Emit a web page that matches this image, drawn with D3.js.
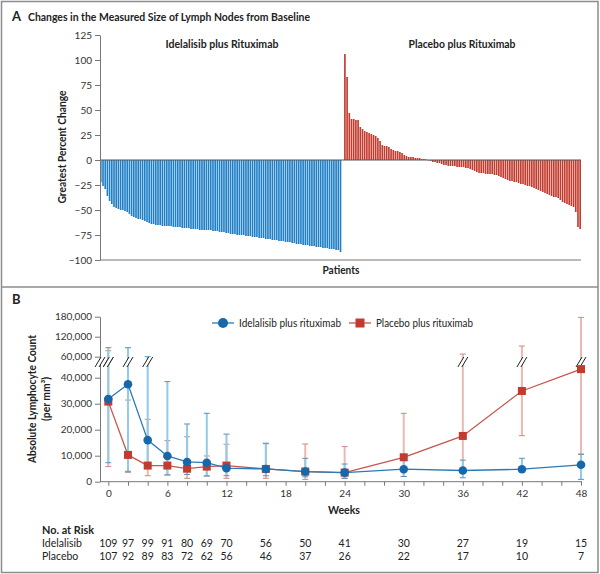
<!DOCTYPE html>
<html><head><meta charset="utf-8">
<script src="https://cdn.jsdelivr.net/npm/d3@7"></script>
<style>body{margin:0;background:#fff}svg{display:block;font-family:Lato,"Open Sans",sans-serif}</style>
</head><body><svg id="c" width="600" height="574"></svg>
<script>
// ---------- Panel A data ----------
const idelalisibChange = [
 -22,-26,-29,-36,-41,-44,-47,-48,-49,-50,
 -50,-51,-52,-54,-56,-57,-58,-59,-59,-60,
 -61,-62,-63,-64,-64,-65,-65,-65,-66,-66,
 -66,-66,-66,-67,-67,-67,-67,-68,-68,-68,
 -68,-69,-69,-69,-69,-70,-70,-70,-70,-70,
 -70,-71,-71,-71,-72,-72,-72,-73,-73,-74,
 -74,-74,-75,-75,-75,-75,-76,-76,-76,-77,
 -77,-77,-78,-78,-78,-79,-79,-79,-80,-80,
 -80,-81,-81,-81,-82,-82,-82,-83,-83,-84,
 -84,-84,-85,-85,-85,-86,-86,-86,-87,-87,
 -87,-88,-88,-88,-89,-89,-89,-90,-90,-92];
const placeboChange = [
 106,83,47,41,41,40,40,33,31,29,
 28,27,26,25,24,22,19,15,14,14,
 13,11,10,9,9,8,7,5,4,3,
 3,3,2,2,2,1,1,0.5,-0.5,-1,
 -2,-2,-3,-3,-4,-5,-5,-6,-6,-6,
 -6,-7,-7,-7,-7,-8,-8,-9,-10,-11,
 -12,-13,-13,-13,-14,-14,-14,-14,-15,-15,
 -16,-17,-18,-19,-20,-21,-21,-22,-22,-23,
 -24,-24,-25,-26,-26,-27,-28,-29,-30,-31,
 -32,-33,-34,-35,-36,-37,-37,-38,-40,-42,
 -43,-44,-45,-46,-47,-52,-67,-69];
const pctTicks = [125,100,75,50,25,0,-25,-50,-75,-100];

// ---------- Panel B data ----------
const weeks = [0,2,4,6,8,10,12,16,20,24,30,36,42,48];
const idelaMean = [31800,37500,16000,9900,7600,7300,5200,4900,3900,3500,4800,4300,4800,6500];
const idelaLow  = [7300,4000,5600,2600,2800,2200,2300,2300,1900,1300,2000,1500,3800,900];
const idelaHigh = [87000,87000,60000,38500,22200,26300,18300,14800,9000,6800,9500,8300,9000,10600];
const placeboMean = [30800,10300,6200,6200,5000,5800,6200,4900,3900,3500,9400,17600,34900,43300];
const placeboLow  = [5800,3600,2300,2600,1300,2200,1300,1300,900,1300,2000,5000,17700,10500];
const placeboHigh = [78000,31400,24000,15800,17300,9900,14400,14600,14500,13500,26300,68000,92000,178000];
const countTicks = [0,10000,20000,30000,40000,60000,120000,180000];
const atRiskIdela = [109,97,99,91,80,69,70,56,50,41,30,27,19,15];
const atRiskPlacebo = [107,92,89,83,72,62,56,46,37,26,22,17,10,7];

const svg = d3.select("#c");
const TXT = "#222";

function label(g, txt, opts){
  const t = g.append("text").attr("fill",TXT).attr("font-size",opts.size||11.5)
    .attr("font-weight",opts.weight||700).attr("text-anchor",opts.anchor||"middle").text(txt);
  if (opts.rotate) t.attr("transform",`translate(${opts.x},${opts.y}) rotate(-90)`);
  else t.attr("x",opts.x).attr("y",opts.y);
  if (opts.len) t.attr("textLength",opts.len).attr("lengthAdjust","spacingAndGlyphs");
  return t;
}

// frame
svg.append("rect").attr("x",1.5).attr("y",1.5).attr("width",596.5).attr("height",571)
  .attr("fill","none").attr("stroke","#8c8c8c").attr("stroke-width",1.5);
svg.append("line").attr("x1",1.5).attr("x2",598).attr("y1",287).attr("y2",287)
  .attr("stroke","#8c8c8c").attr("stroke-width",1.5);

// ---------- Panel A ----------
label(svg,"A",{x:12,y:21,size:13,anchor:"start"});
label(svg,"Changes in the Measured Size of Lymph Nodes from Baseline",{x:28,y:21,size:12,anchor:"start",len:282});

const nI = idelalisibChange.length, nP = placeboChange.length;
const xA = d3.scaleBand().domain(d3.range(nI + 1 + nP)).range([100,581]).paddingInner(0.25);
const yA = d3.scaleLinear().domain([-100,125]).range([260,35]);

const gA = svg.append("g");
gA.selectAll("rect.bi").data(idelalisibChange).join("rect").attr("class","bi")
  .attr("x",(d,i)=>xA(i)).attr("width",xA.bandwidth())
  .attr("y",d=>yA(Math.max(0,d))).attr("height",d=>Math.abs(yA(d)-yA(0)))
  .attr("fill","#1f7fc6");
gA.selectAll("rect.bp").data(placeboChange).join("rect").attr("class","bp")
  .attr("x",(d,i)=>xA(nI+1+i)).attr("width",xA.bandwidth())
  .attr("y",d=>yA(Math.max(0,d))).attr("height",d=>Math.abs(yA(d)-yA(0)))
  .attr("fill","#c23b2e");

gA.append("line").attr("x1",100).attr("x2",581).attr("y1",yA(0)).attr("y2",yA(0)).attr("stroke","#555").attr("stroke-width",1);
gA.append("line").attr("x1",100).attr("x2",581).attr("y1",yA(-100)).attr("y2",yA(-100)).attr("stroke","#777").attr("stroke-width",1);

const axA = gA.append("g").attr("transform","translate(100,0)")
  .call(d3.axisLeft(yA).tickValues(pctTicks).tickSize(5).tickSizeOuter(0)
    .tickFormat(d=> d<0 ? "\u2212"+Math.abs(d) : d));
axA.select(".domain").attr("stroke","#777");
axA.selectAll(".tick line").attr("stroke","#777");
axA.selectAll("text").attr("font-size",10).attr("fill","#333").attr("font-family","Lato");

label(gA,"Greatest Percent Change",{x:66,y:147,rotate:true,len:113});
label(gA,"Idelalisib plus Rituximab",{x:222,y:48,len:113});
label(gA,"Placebo plus Rituximab",{x:462,y:48,len:107});
label(gA,"Patients",{x:341,y:274,len:37});

// ---------- Panel B ----------
label(svg,"B",{x:12,y:304,size:13,anchor:"start"});

const xB = d3.scaleLinear().domain([0,48]).range([108.3,581]);
const yB = d3.scaleLinear().domain([0,44000,60000,180000]).range([481.7,367.3,356.7,316.7]);
const breakY = 362;
const gB = svg.append("g");

function drawBreak(g, x, y){
  g.append("path").attr("d",`M${x-5},${y+5}L${x+1},${y-5}L${x+5},${y-5}L${x-1},${y+5}Z`).attr("fill","#fff");
  g.append("line").attr("x1",x-5).attr("y1",y+5).attr("x2",x+1).attr("y2",y-5).attr("stroke","#222").attr("stroke-width",1);
  g.append("line").attr("x1",x-1).attr("y1",y+5).attr("x2",x+5).attr("y2",y-5).attr("stroke","#222").attr("stroke-width",1);
}

const axY = gB.append("g").attr("transform","translate(100,0)")
  .call(d3.axisLeft(yB).tickValues(countTicks).tickFormat(d3.format(",")).tickSize(5).tickSizeOuter(0));
axY.select(".domain").attr("stroke","#777");
axY.selectAll(".tick line").attr("stroke","#777");
axY.selectAll("text").attr("font-size",10).attr("fill","#333").attr("font-family","Lato");
const axX = gB.append("g").attr("transform",`translate(0,${yB(0)})`)
  .call(d3.axisBottom(xB).tickValues(d3.range(0,49,2)).tickFormat(d=> d%6===0 ? d : "").tickSize(4).tickSizeOuter(0));
axX.select(".domain").remove();
axX.selectAll(".tick line").attr("stroke","#777");
axX.selectAll("text").attr("font-size",10).attr("fill","#333").attr("font-family","Lato").attr("dy","0.85em");
gB.append("line").attr("x1",100).attr("x2",582).attr("y1",yB(0)).attr("y2",yB(0)).attr("stroke","#777");
drawBreak(gB, 100, breakY);

label(gB,"Absolute Lymphocyte Count",{x:36,y:399,rotate:true,len:128});
label(gB,"(per mm\u00B3)",{x:50,y:399,rotate:true,len:44});
label(gB,"Weeks",{x:344,y:514,len:32});

function errBars(low, high, lineCol, capCol){
  const g = gB.append("g");
  weeks.forEach((w,i)=>{
    const x = xB(w);
    g.append("line").attr("x1",x).attr("x2",x).attr("y1",yB(low[i])).attr("y2",yB(high[i])).attr("stroke",lineCol).attr("stroke-width",2);
    [low[i],high[i]].forEach(v=>{
      g.append("line").attr("x1",x-3).attr("x2",x+3).attr("y1",yB(v)).attr("y2",yB(v)).attr("stroke",capCol).attr("stroke-width",1);
    });
    if (high[i] > 44000) drawBreak(g, x, breakY);
  });
}
errBars(placeboLow, placeboHigh, "#ecb8b2", "#c98a84");
errBars(idelaLow, idelaHigh, "#8fcbea", "#5f8fb3");

const lineGen = (m) => d3.line().x((d,i)=>xB(weeks[i])).y(d=>yB(d))(m);
gB.append("path").attr("d",lineGen(placeboMean)).attr("fill","none").attr("stroke","#c8554a").attr("stroke-width",1.3);
gB.selectAll("rect.pm").data(placeboMean).join("rect").attr("class","pm")
  .attr("x",(d,i)=>xB(weeks[i])-4).attr("y",d=>yB(d)-4).attr("width",8).attr("height",8).attr("fill","#c23b2e");
gB.append("path").attr("d",lineGen(idelaMean)).attr("fill","none").attr("stroke","#2a7ab5").attr("stroke-width",1.3);
gB.selectAll("circle.im").data(idelaMean).join("circle").attr("class","im")
  .attr("cx",(d,i)=>xB(weeks[i])).attr("cy",d=>yB(d)).attr("r",4.3).attr("fill","#1668aa");

// legend
const lg = gB.append("g");
lg.append("line").attr("x1",212).attr("x2",234).attr("y1",323).attr("y2",323).attr("stroke","#2a7ab5").attr("stroke-width",1.3);
lg.append("circle").attr("cx",223).attr("cy",323).attr("r",5).attr("fill","#1668aa");
label(lg,"Idelalisib plus rituximab",{x:239,y:327,size:11,weight:400,anchor:"start",len:102});
lg.append("line").attr("x1",349).attr("x2",371).attr("y1",323).attr("y2",323).attr("stroke","#c8554a").attr("stroke-width",1.3);
lg.append("rect").attr("x",355.5).attr("y",318.5).attr("width",9).attr("height",9).attr("fill","#c23b2e");
label(lg,"Placebo plus rituximab",{x:376,y:327,size:11,weight:400,anchor:"start",len:97});

// at-risk table
const gT = svg.append("g");
label(gT,"No. at Risk",{x:42,y:534,size:11.5,anchor:"start",len:52});
label(gT,"Idelalisib",{x:42,y:547,size:10.5,weight:400,anchor:"start"});
label(gT,"Placebo",{x:42,y:560,size:10.5,weight:400,anchor:"start"});
gT.selectAll("text.ri").data(atRiskIdela).join("text").attr("class","ri")
  .attr("x",(d,i)=>xB(weeks[i])).attr("y",547).attr("text-anchor","middle").attr("font-size",10.5).attr("fill",TXT).text(d=>d);
gT.selectAll("text.rp").data(atRiskPlacebo).join("text").attr("class","rp")
  .attr("x",(d,i)=>xB(weeks[i])).attr("y",560).attr("text-anchor","middle").attr("font-size",10.5).attr("fill",TXT).text(d=>d);
</script>
</body></html>
